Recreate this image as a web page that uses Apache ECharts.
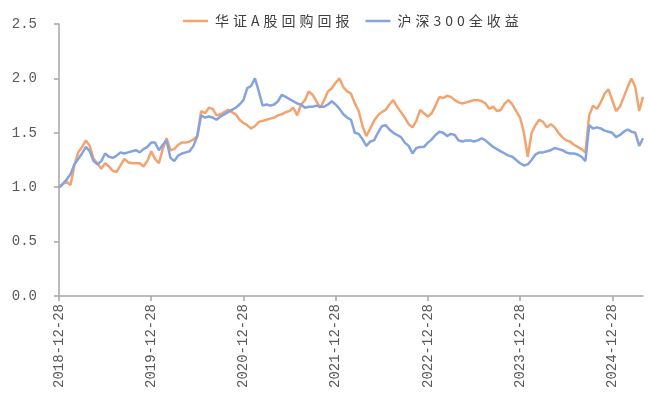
<!DOCTYPE html>
<html><head><meta charset="utf-8">
<script src="https://cdn.jsdelivr.net/npm/echarts@6/dist/echarts.min.js"></script>
<style>html,body{margin:0;padding:0;background:#fff}#c{width:648px;height:396px}</style>
</head><body><div id="c"></div>
<script>
// Semi-monthly observation dates (13th and 28th of each month), 2018-12-28 .. 2025-04-28
var categories = ['2018-12-28'];
for (var y = 2019; y <= 2025; y++) {
  for (var m = 1; m <= 12; m++) {
    if (y === 2025 && m > 4) break;
    var mm = (m < 10 ? '0' : '') + m;
    categories.push(y + '-' + mm + '-13');
    categories.push(y + '-' + mm + '-28');
  }
}
var seriesNames = ['华证A股回购回报', '沪深300全收益'];
var buybackValues = [
  1.00,1.03,1.05,1.02,1.20,1.32,1.37,1.43,1.38,1.26,1.22,1.17,
  1.22,1.19,1.15,1.14,1.20,1.26,1.23,1.22,1.22,1.22,1.19,1.24,
  1.33,1.26,1.22,1.35,1.45,1.34,1.35,1.39,1.41,1.41,1.42,1.44,
  1.47,1.70,1.68,1.73,1.72,1.66,1.67,1.69,1.71,1.69,1.67,1.62,
  1.59,1.57,1.54,1.56,1.60,1.61,1.62,1.63,1.64,1.66,1.67,1.69,
  1.70,1.73,1.66,1.76,1.80,1.88,1.85,1.79,1.73,1.80,1.88,1.91,
  1.96,2.00,1.92,1.88,1.86,1.77,1.70,1.56,1.47,1.54,1.61,1.66,
  1.69,1.71,1.76,1.80,1.74,1.69,1.64,1.58,1.55,1.61,1.71,1.68,
  1.65,1.68,1.75,1.83,1.82,1.84,1.83,1.80,1.78,1.77,1.78,1.79,
  1.80,1.80,1.79,1.77,1.72,1.74,1.70,1.71,1.77,1.80,1.76,1.70,
  1.64,1.50,1.28,1.50,1.57,1.62,1.60,1.55,1.58,1.55,1.50,1.46,
  1.43,1.42,1.39,1.37,1.35,1.32,1.66,1.75,1.72,1.78,1.86,1.90,
  1.80,1.70,1.74,1.83,1.92,2.00,1.92,1.70,1.83
];
var csi300Values = [
  1.00,1.03,1.07,1.12,1.21,1.26,1.31,1.37,1.33,1.24,1.21,1.24,
  1.31,1.28,1.27,1.29,1.32,1.31,1.32,1.33,1.34,1.32,1.35,1.37,
  1.41,1.41,1.34,1.39,1.43,1.27,1.24,1.29,1.31,1.32,1.33,1.38,
  1.47,1.66,1.64,1.65,1.64,1.62,1.65,1.67,1.69,1.71,1.73,1.76,
  1.80,1.91,1.93,2.00,1.88,1.75,1.76,1.75,1.76,1.79,1.85,1.83,
  1.81,1.79,1.77,1.76,1.73,1.74,1.74,1.75,1.74,1.74,1.76,1.79,
  1.76,1.72,1.67,1.64,1.62,1.50,1.49,1.44,1.38,1.42,1.43,1.50,
  1.56,1.57,1.53,1.50,1.48,1.46,1.41,1.38,1.31,1.36,1.37,1.37,
  1.41,1.44,1.48,1.51,1.50,1.47,1.49,1.48,1.43,1.42,1.43,1.43,
  1.42,1.43,1.45,1.43,1.40,1.37,1.35,1.33,1.31,1.29,1.28,1.25,
  1.22,1.20,1.21,1.25,1.30,1.32,1.32,1.33,1.34,1.36,1.35,1.34,
  1.32,1.31,1.31,1.30,1.28,1.24,1.57,1.54,1.55,1.54,1.52,1.51,
  1.50,1.46,1.48,1.51,1.53,1.51,1.50,1.38,1.45
];
var yTicks = [0, 0.5, 1.0, 1.5, 2.0, 2.5];

var isYearTick = function (idx, val) { return /-12-28$/.test(val); };
var chart = echarts.init(document.getElementById('c'), null, {renderer: 'canvas'});
chart.setOption({
  animation: false,
  backgroundColor: '#ffffff',
  legend: {
    top: 9, left: 178,
    icon: 'rect',
    itemWidth: 25, itemHeight: 2.5, itemGap: 16,
    data: seriesNames,
    textStyle: {
      fontFamily: 'Noto Sans CJK SC', fontSize: 14, color: '#404040',
      rich: { s: { fontFamily: 'Noto Sans CJK SC', fontSize: 14, color: '#404040', padding: [0, 2, 0, 2] } }
    },
    formatter: function (name) {
      return name.split('').map(function (c) { return '{s|' + c + '}'; }).join('');
    }
  },
  grid: { left: 59, right: 5, top: 24, bottom: 100, containLabel: false },
  xAxis: {
    type: 'category', data: categories, boundaryGap: false,
    axisLine: { lineStyle: { color: '#a6a6a6', width: 1.5 } },
    axisTick: { show: true, interval: isYearTick, length: 5, inside: false, lineStyle: { color: '#a6a6a6', width: 1.5 } },
    axisLabel: { interval: isYearTick, rotate: 90, margin: 8, fontFamily: 'Liberation Mono', fontSize: 14, color: '#595959' },
    splitLine: { show: false }
  },
  yAxis: {
    type: 'value', min: yTicks[0], max: yTicks[yTicks.length - 1], interval: 0.5,
    axisLine: { show: true, lineStyle: { color: '#a6a6a6', width: 1.5 } },
    axisTick: { show: true, length: 5, lineStyle: { color: '#a6a6a6', width: 1.5 } },
    axisLabel: { margin: 22, fontFamily: 'Liberation Mono', fontSize: 14, color: '#595959',
      formatter: function (v) { return v.toFixed(1); } },
    splitLine: { show: false }
  },
  series: [
    { name: seriesNames[0], type: 'line', data: buybackValues, symbol: 'none',
      lineStyle: { color: '#f2a470', width: 2.5 }, itemStyle: { color: '#f2a470' }, z: 2 },
    { name: seriesNames[1], type: 'line', data: csi300Values, symbol: 'none',
      lineStyle: { color: '#84a3df', width: 2.5 }, itemStyle: { color: '#84a3df' }, z: 3 }
  ]
});
</script></body></html>
